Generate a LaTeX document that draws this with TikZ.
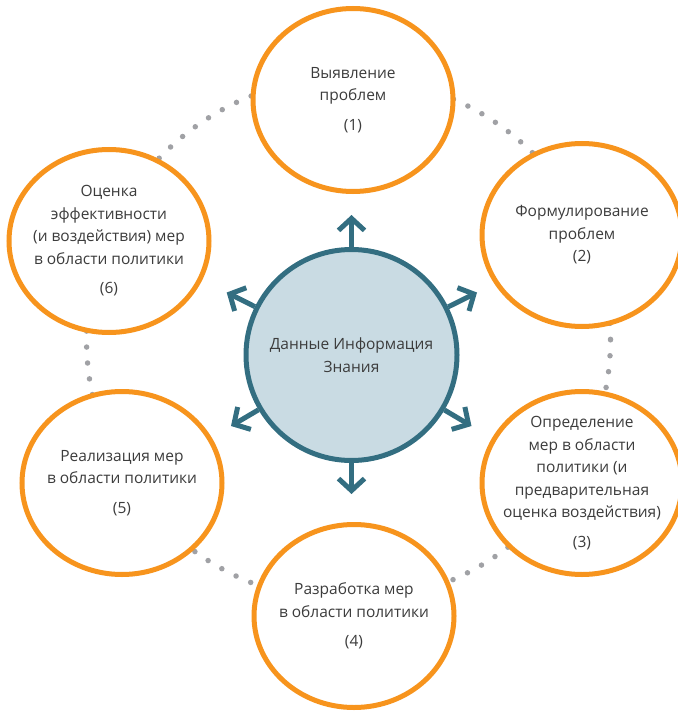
\documentclass[tikz,border=0pt]{standalone}
\usepackage{fontspec}
\setmainfont{Open Sans}
\usetikzlibrary{shapes.geometric,arrows.meta}

\definecolor{stageorange}{HTML}{F7941D}
\definecolor{hubteal}{HTML}{336E81}
\definecolor{hubfill}{HTML}{C9DBE3}
\definecolor{dotgray}{HTML}{A0A1A5}
\definecolor{txtgray}{HTML}{3C3C3C}

\tikzset{
  stage/.style={ellipse, draw=stageorange, line width=5pt, fill=white,
    minimum width=200pt, minimum height=183pt, inner sep=-30pt,
    align=center, text=txtgray, font=\fontsize{15.5}{22.5}\selectfont},
  hub/.style={circle, draw=hubteal, fill=hubfill, line width=5pt,
    minimum size=211pt, inner sep=0pt, align=center, text=txtgray,
    font=\fontsize{15.5}{22.5}\selectfont},
  spoke/.style={draw=hubteal, line width=5pt,
    -{Straight Barb[length=12pt,width=26pt]}},
  dotring/.style={draw=dotgray, line width=5.5pt, line cap=round,
    dash pattern=on 0pt off 15.98pt}
}

\begin{document}
\begin{tikzpicture}[x=1pt,y=-1pt]
    \useasboundingbox (0,0) rectangle (677,711);
    % dotted ring behind the stages
    \coordinate (ring) at (348.5,339.3);
    \draw[dotring] (ring) circle[radius=262pt];

    \node[hub] (hub) at (351.5,355) {Данные Информация\\Знания};
    \coordinate (tN) at (351.5,215);
    \coordinate (tS) at (351.5,494);
    \coordinate (tNE) at (477,292.5);
    \coordinate (tSE) at (471.5,426);
    \coordinate (tNW) at (226.7,292.5);
    \coordinate (tSW) at (231,426);
    \path[spoke] (hub) -- (tN);
    \path[spoke] (hub) -- (tS);
    \path[spoke] (hub) -- (tNE);
    \path[spoke] (hub) -- (tSE);
    \path[spoke] (hub) -- (tNW);
    \path[spoke] (hub) -- (tSW);

    \node[stage] (S1) at (353,100) {Выявление\\проблем\\[7pt](1)};
    \node[stage] (S2) at (582,235) {Формулирование\\проблем\\(2)};
    \node[stage] (S3) at (582,483) {Определение\\мер в области\\политики (и\\предварительная\\оценка воздействия)\\[7pt](3)};
    \node[stage] (S4) at (354,616) {Разработка мер\\в области политики\\[7pt](4)};
    \node[stage] (S5) at (122,483) {Реализация мер\\в области политики\\[7pt](5)};
    \node[stage] (S6) at (109,241) {Оценка\\эффективности\\(и воздействия) мер\\в области политики\\[7pt](6)};
\end{tikzpicture}
\end{document}
